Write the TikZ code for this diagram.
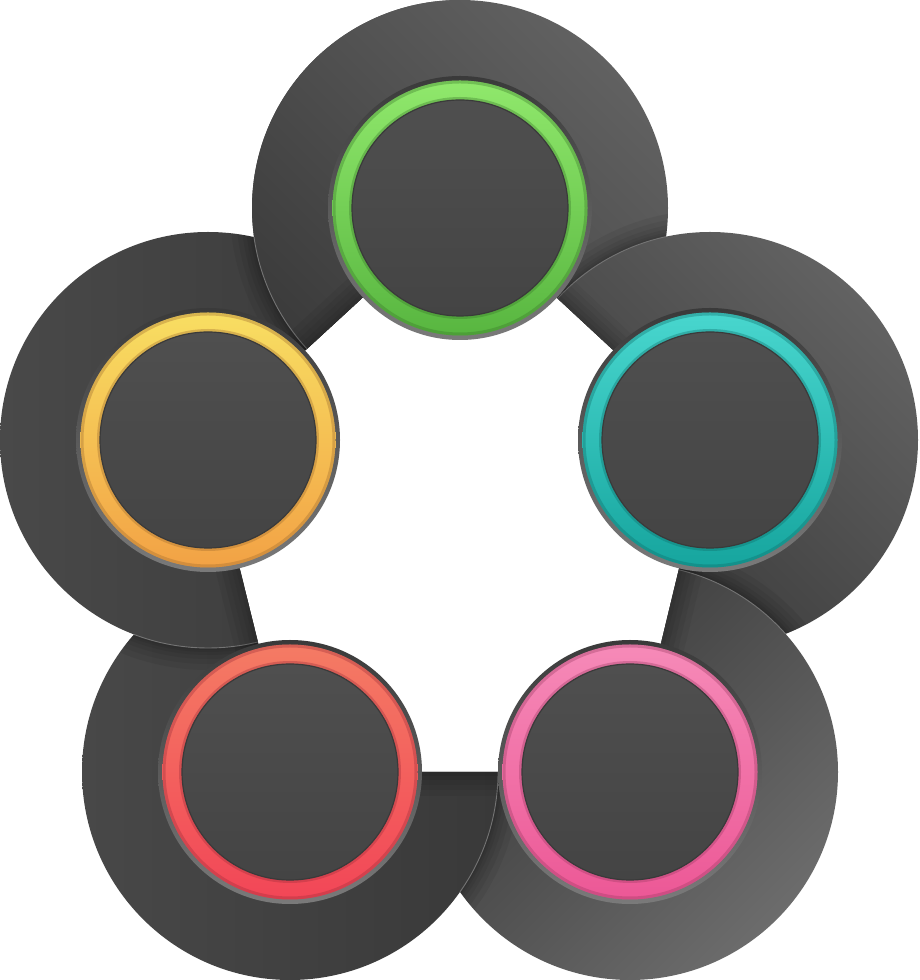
\documentclass[tikz,border=0pt]{standalone}
\usetikzlibrary{calc}
\definecolor{dTa}{HTML}{616161}
\definecolor{dTb}{HTML}{3B3B3B}
\definecolor{dRa}{HTML}{626262}
\definecolor{dRb}{HTML}{363636}
\definecolor{dPa}{HTML}{6C6C6C}
\definecolor{dPb}{HTML}{353535}
\definecolor{dBa}{HTML}{484848}
\definecolor{dBb}{HTML}{393939}
\definecolor{dLa}{HTML}{494949}
\definecolor{dLb}{HTML}{393939}
\definecolor{grA}{HTML}{90E86C}
\definecolor{grB}{HTML}{58B640}
\definecolor{cyA}{HTML}{48D6CE}
\definecolor{cyB}{HTML}{16A59E}
\definecolor{pkA}{HTML}{F68AB8}
\definecolor{pkB}{HTML}{EC5896}
\definecolor{rdA}{HTML}{F47B64}
\definecolor{rdB}{HTML}{F24657}
\definecolor{yeA}{HTML}{F8DE62}
\definecolor{yeB}{HTML}{F2A245}
\definecolor{rimA}{HTML}{3A3A3A}
\definecolor{rimB}{HTML}{7A7A7A}
\definecolor{inA}{HTML}{4F4F4F}
\definecolor{inB}{HTML}{444444}
\definecolor{inEdge}{HTML}{3A3A3A}
\definecolor{hiEdge}{HTML}{747474}
\tikzset{
  diskT/.style={top color=dTa, bottom color=dTb, shading angle=-45},
  diskR/.style={top color=dRa, bottom color=dRb, shading angle=-45},
  diskP/.style={top color=dPa, bottom color=dPb, shading angle=-135},
  diskB/.style={top color=dBa, bottom color=dBb, shading angle=90},
  diskL/.style={top color=dLa, bottom color=dLb, shading angle=90},
  rimline/.style={draw=hiEdge, line width=0.9pt},
  shadowfill/.style={fill=black, opacity=0.06}
}
\newcommand\castshadow[2]{%
  \begin{scope}
    \clip (#2) circle[radius=208];
    \foreach \k in {22,16,11,7,4,2}{\fill[shadowfill] (#1) circle[radius=208+\k];}
  \end{scope}}
\newcommand\edgelight[2]{%
  \begin{scope}
    \clip (#2) circle[radius=208];
    \draw[rimline] (#1) circle[radius=208];
  \end{scope}}
\begin{document}
\begin{tikzpicture}[x=1pt,y=1pt]
\useasboundingbox (0,0) rectangle (920,980);
\fill[white] (0,0) rectangle (920,980);
\coordinate (T) at (460,772);
\coordinate (R) at (710,540);
\coordinate (PB) at (630,208);
\coordinate (RB) at (290,208);
\coordinate (L) at (208,540);

\begin{scope}[even odd rule]
  \clip (0,0) rectangle (920,980) (T) -- (R) -- (PB) -- (RB) -- (L) -- cycle;
  \shade[diskT] (T) circle[radius=208];
  \castshadow{R}{T}
  \shade[diskR] (R) circle[radius=208];
  \edgelight{R}{T}
  \castshadow{PB}{R}
  \shade[diskP] (PB) circle[radius=208];
  \edgelight{PB}{R}
  \castshadow{RB}{PB}
  \shade[diskB] (RB) circle[radius=208];
  \edgelight{RB}{PB}
  \castshadow{L}{RB}
  \shade[diskL] (L) circle[radius=208];
  \edgelight{L}{RB}
  \begin{scope}
    \clip (0,0) rectangle (460,980);
    \castshadow{T}{L}
    \shade[diskT] (T) circle[radius=208];
    \edgelight{T}{L}
  \end{scope}
  % folds along the inner pentagon
  \foreach \a/\b/\nx/\ny in {T/R/0.680/0.733, R/PB/0.972/-0.234, PB/RB/0/-1, RB/L/-0.971/-0.240, L/T/-0.677/0.736}{
    \foreach \w in {4,8,13,18,24}{
      \fill[black, opacity=0.05] (\a) -- (\b) -- ($(\b)+(\nx*\w,\ny*\w)$) -- ($(\a)+(\nx*\w,\ny*\w)$) -- cycle;
    }
  }
\end{scope}

% inner rings
\foreach \c/\ca/\cb in {T/grA/grB, R/cyA/cyB, PB/pkA/pkB, RB/rdA/rdB, L/yeA/yeB}{
  \shade[top color=rimA, bottom color=rimB] (\c) circle[radius=132];
  \shade[even odd rule, top color=\ca, bottom color=\cb] (\c) circle[radius=127.5] (\c) circle[radius=108];
  \draw[\cb!65!black, opacity=0.35, line width=3pt] (\c) circle[radius=126];
  \draw[\cb!65!black, opacity=0.35, line width=3pt] (\c) circle[radius=109.5];
  \shade[top color=inA, bottom color=inB] (\c) circle[radius=108];
  \draw[inEdge, line width=1.2pt] (\c) circle[radius=108];
}
\end{tikzpicture}
\end{document}
